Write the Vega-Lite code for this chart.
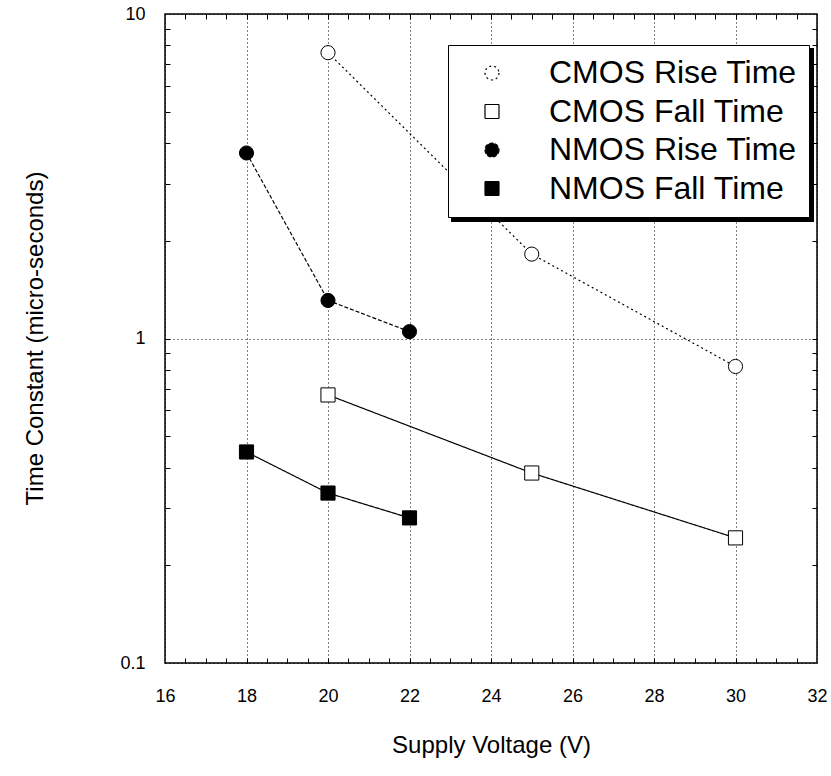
{
  "$schema": "https://vega.github.io/schema/vega-lite/v6.json",
  "width": 652,
  "height": 649,
  "autosize": "none",
  "padding": {"left": 165, "top": 14, "right": 14, "bottom": 113},
  "background": "white",
  "config": {
    "view": {"stroke": "black", "strokeWidth": 1.5},
    "font": "Liberation Sans",
    "axis": {"labelFont": "Liberation Sans", "titleFont": "Liberation Sans", "labelColor": "black", "titleColor": "black", "titleFontWeight": "normal", "domainColor": "black", "tickColor": "black"}
  },
  "data": {
    "values": [
      {"series": "CMOS Rise Time", "voltage": 20, "time": 7.6},
      {"series": "CMOS Rise Time", "voltage": 25, "time": 1.82},
      {"series": "CMOS Rise Time", "voltage": 30, "time": 0.82},
      {"series": "CMOS Fall Time", "voltage": 20, "time": 0.67},
      {"series": "CMOS Fall Time", "voltage": 25, "time": 0.385},
      {"series": "CMOS Fall Time", "voltage": 30, "time": 0.243},
      {"series": "NMOS Rise Time", "voltage": 18, "time": 3.73},
      {"series": "NMOS Rise Time", "voltage": 20, "time": 1.31},
      {"series": "NMOS Rise Time", "voltage": 22, "time": 1.05},
      {"series": "NMOS Fall Time", "voltage": 18, "time": 0.447},
      {"series": "NMOS Fall Time", "voltage": 20, "time": 0.334},
      {"series": "NMOS Fall Time", "voltage": 22, "time": 0.28}
    ]
  },
  "resolve": {"axis": {"x": "independent", "y": "independent"}},
  "layer": [
    {
      "mark": {"type": "line", "opacity": 0},
      "encoding": {
        "x": {"field": "voltage", "type": "quantitative", "scale": {"domain": [16, 32], "nice": false, "zero": false}, "axis": {"orient": "top", "values": [16.5, 17, 17.5, 18, 18.5, 19, 19.5, 20, 20.5, 21, 21.5, 22, 22.5, 23, 23.5, 24, 24.5, 25, 25.5, 26, 26.5, 27, 27.5, 28, 28.5, 29, 29.5, 30, 30.5, 31, 31.5], "labels": false, "grid": false, "domain": false, "ticks": true, "tickSize": 5, "offset": -5, "tickColor": "black", "tickWidth": 1, "title": null}},
        "y": {"field": "time", "type": "quantitative", "scale": {"type": "log", "domain": [0.1, 10], "nice": false}, "axis": {"orient": "right", "values": [0.2, 0.3, 0.4, 0.5, 0.6, 0.7, 0.8, 0.9, 1, 2, 3, 4, 5, 6, 7, 8, 9], "labels": false, "grid": false, "domain": false, "ticks": true, "tickSize": 5, "offset": -5, "tickColor": "black", "tickWidth": 1, "title": null}},
        "detail": {"field": "series"},
        "color": {
          "field": "voltage", "type": "nominal",
          "legend": {
            "orient": "none", "legendX": 287, "legendY": 35, "zindex": 0,
            "title": null, "padding": 12, "fillColor": "black", "strokeColor": "black",
            "labelFontSize": 32, "labelFont": "Liberation Sans", "labelLimit": 500, "labelOpacity": 0,
            "symbolSize": 196, "symbolOffset": 16, "labelOffset": 41, "rowPadding": 6.5, "symbolOpacity": 0,
            "values": [18, 20, 22, 25],
            "labelExpr": "datum.value == 18 ? 'CMOS Rise Time' : datum.value == 20 ? 'CMOS Fall Time' : datum.value == 22 ? 'NMOS Rise Time' : 'NMOS Fall Time'",
            "encode": {
              "legend": {"update": {"strokeWidth": {"value": 2}}},
              "symbols": {"update": {"shape": {"value": "M-4.3,0L-1.1,0M1.1,0L4.3,0M-1.1,-1.1L1.1,-1.1L1.1,1.1L-1.1,1.1Z"}, "opacity": {"value": 0}}}
            }
          }
        }
      }
    },
    {
      "mark": {"type": "line", "color": "black", "strokeWidth": 1.2},
      "encoding": {
        "x": {
          "field": "voltage", "type": "quantitative",
          "axis": {
            "orient": "bottom",
            "values": [16, 18, 20, 22, 24, 26, 28, 30, 32],
            "grid": true, "gridDash": [1, 3], "gridColor": "black", "gridWidth": 1,
            "ticks": false, "tickSize": 0, "domain": false,
            "labelFontSize": 18, "labelPadding": 24, "labelFlush": false,
            "title": "Supply Voltage (V)", "titleFontSize": 24,
            "titleX": 326, "titleY": 82, "titleBaseline": "middle", "titleAlign": "center"
          }
        },
        "y": {
          "field": "time", "type": "quantitative",
          "axis": {
            "orient": "left",
            "values": [0.1, 1, 10],
            "format": "~g",
            "grid": true, "gridDash": [1, 3], "gridColor": "black", "gridWidth": 1,
            "ticks": false, "tickSize": 0, "domain": false,
            "labelFontSize": 18, "labelPadding": 20, "labelFlush": false,
            "title": "Time Constant (micro-seconds)", "titleFontSize": 24,
            "titleX": -130, "titleY": 324, "titleBaseline": "middle", "titleAlign": "center", "titleAngle": -90
          }
        },
        "detail": {"field": "series"},
        "strokeDash": {
          "field": "series", "type": "nominal",
          "scale": {"domain": ["CMOS Rise Time", "CMOS Fall Time", "NMOS Rise Time", "NMOS Fall Time"], "range": [[2, 3], [1, 0], [4, 2], [1, 0]]}
        }
      }
    },
    {
      "mark": {"type": "point", "filled": true, "stroke": "black", "strokeWidth": 1, "size": 200, "opacity": 1},
      "encoding": {
        "x": {"field": "voltage", "type": "quantitative", "axis": {"orient": "bottom", "values": [16.5, 17, 17.5, 18, 18.5, 19, 19.5, 20, 20.5, 21, 21.5, 22, 22.5, 23, 23.5, 24, 24.5, 25, 25.5, 26, 26.5, 27, 27.5, 28, 28.5, 29, 29.5, 30, 30.5, 31, 31.5], "labels": false, "grid": false, "domain": false, "ticks": true, "tickSize": 5, "offset": -5, "tickColor": "black", "tickWidth": 1, "title": null}},
        "y": {"field": "time", "type": "quantitative", "axis": {"orient": "left", "values": [0.2, 0.3, 0.4, 0.5, 0.6, 0.7, 0.8, 0.9, 1, 2, 3, 4, 5, 6, 7, 8, 9], "labels": false, "grid": false, "domain": false, "ticks": true, "tickSize": 5, "offset": -5, "tickColor": "black", "tickWidth": 1, "title": null}},
        "shape": {
          "field": "series", "type": "nominal",
          "scale": {"domain": ["CMOS Rise Time", "CMOS Fall Time", "NMOS Rise Time", "NMOS Fall Time"], "range": ["circle", "square", "circle", "square"]}
        },
        "fill": {
          "field": "series", "type": "nominal",
          "scale": {"domain": ["CMOS Rise Time", "CMOS Fall Time", "NMOS Rise Time", "NMOS Fall Time"], "range": ["white", "white", "black", "black"]},
          "legend": {
            "orient": "none", "legendX": 283, "legendY": 31, "zindex": 1,
            "title": null, "padding": 12, "fillColor": "white", "strokeColor": "black",
            "labelFontSize": 32, "labelFont": "Liberation Sans", "labelColor": "black", "labelLimit": 500,
            "symbolSize": 196, "symbolOffset": 16, "labelOffset": 41, "rowPadding": 6.5,
            "symbolStrokeColor": "black", "symbolStrokeWidth": 1.2,
            "encode": {
              "legend": {"update": {"strokeWidth": {"value": 2}}},
              "symbols": {
                "update": {
                  "shape": {"signal": "datum.value === 'CMOS Rise Time' ? 'M-4.3,0L-0.85,0M0.85,0L4.3,0M-0.85,0A0.85,0.85,0,1,1,0.85,0A0.85,0.85,0,1,1,-0.85,0Z' : datum.value === 'CMOS Fall Time' ? 'M-4.3,0L-0.85,0M0.85,0L4.3,0M-0.85,-0.85L0.85,-0.85L0.85,0.85L-0.85,0.85Z' : datum.value === 'NMOS Rise Time' ? 'M-4.3,0L-1,0M1,0L4.3,0M-1,0A1,1,0,1,1,1,0A1,1,0,1,1,-1,0Z' : 'M-4.3,0L-1.1,0M1.1,0L4.3,0M-1.1,-1.1L1.1,-1.1L1.1,1.1L-1.1,1.1Z'"},
                  "stroke": {"value": "black"},
                  "opacity": {"value": 1}
                }
              }
            }
          }
        }
      }
    }
  ]
}
